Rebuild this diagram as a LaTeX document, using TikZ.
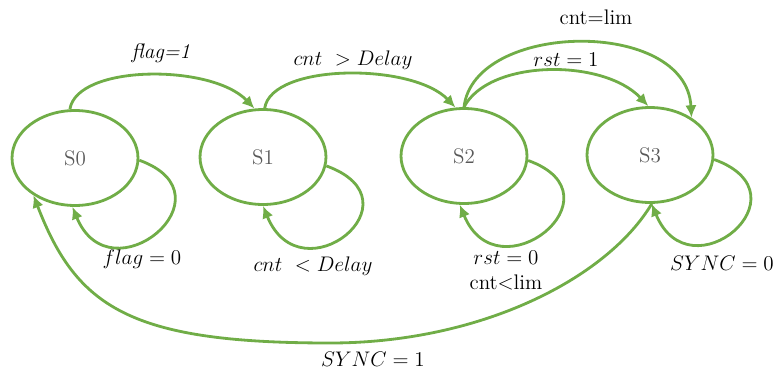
\documentclass[tikz,border=0pt]{standalone}
\usepackage{tikz}
\usepackage{amsmath}
\usetikzlibrary{shapes.geometric}
\usetikzlibrary{arrows.meta}
\definecolor{stategreen}{RGB}{112,173,71}
\definecolor{stategray}{RGB}{89,89,89}

\begin{document}
\begin{tikzpicture}[x=0.02cm, y=-0.02cm, >={Latex[length=7pt,width=6.5pt]},
    state/.style={draw=stategreen, ellipse, line width=1.6pt, minimum width=2.52cm, minimum height=1.9cm, text=stategray, font=\large},
    trans/.style={->, draw=stategreen, line width=1.6pt},
    lbl/.style={font=\large}]
    \useasboundingbox (0,0) rectangle (778,372);

    \node[state] (s0) at (75,158) {S0};
    \node[state] (s1) at (263,157) {S1};
    \node[state] (s2) at (464,156) {S2};
    \node[state] (s3) at (650,155) {S3};

    \draw[trans] (s0.96) .. controls +(7,-45) and +(-43,-45) .. (s1.100);
    \draw[trans] (s1.88) .. controls +(7,-45) and +(-43,-45) .. (s2.100);
    \draw[trans] (s2.90) .. controls +(25,-48) and +(-45,-48) .. (s3.92);
    \draw[trans] (s2.90) .. controls +(10,-86) and +(-5,-100) .. (s3.42);

    \draw[trans] (s0.-2) .. controls +(97,35) and +(38,93) .. (s0.-93);
    \draw[trans] (s1.-8) .. controls +(97,35) and +(38,93) .. (s1.-90);
    \draw[trans] (s2.-4) .. controls +(97,35) and +(38,93) .. (s2.-95);
    \draw[trans] (s3.-4) .. controls +(97,35) and +(38,93) .. (s3.-88);

    \draw[trans] (s3.-88) .. controls +(-45,75) and +(150,0) .. (330,343)
        .. controls +(-200,0) and +(43,112) .. (s0.222);

    \node[lbl] (l01) at (161,53) {\textit{flag=1}};
    \node[lbl] (l12) at (353,60) {$cnt\ > Delay$};
    \node[lbl] (l23) at (566,60) {$rst = 1$};
    \node[lbl] (l23b) at (596,17) {cnt=lim};
    \node[lbl] (l00) at (142,259) {$flag = 0$};
    \node[lbl] (l11) at (313,266) {$cnt\ < Delay$};
    \node[lbl] (l22) at (506,258) {$rst = 0$};
    \node[lbl] (l22b) at (506,282) {cnt$<$lim};
    \node[lbl] (l33) at (722,263) {$SYNC = 0$};
    \node[lbl] (l30) at (373,359) {$SYNC = 1$};
\end{tikzpicture}
\end{document}
